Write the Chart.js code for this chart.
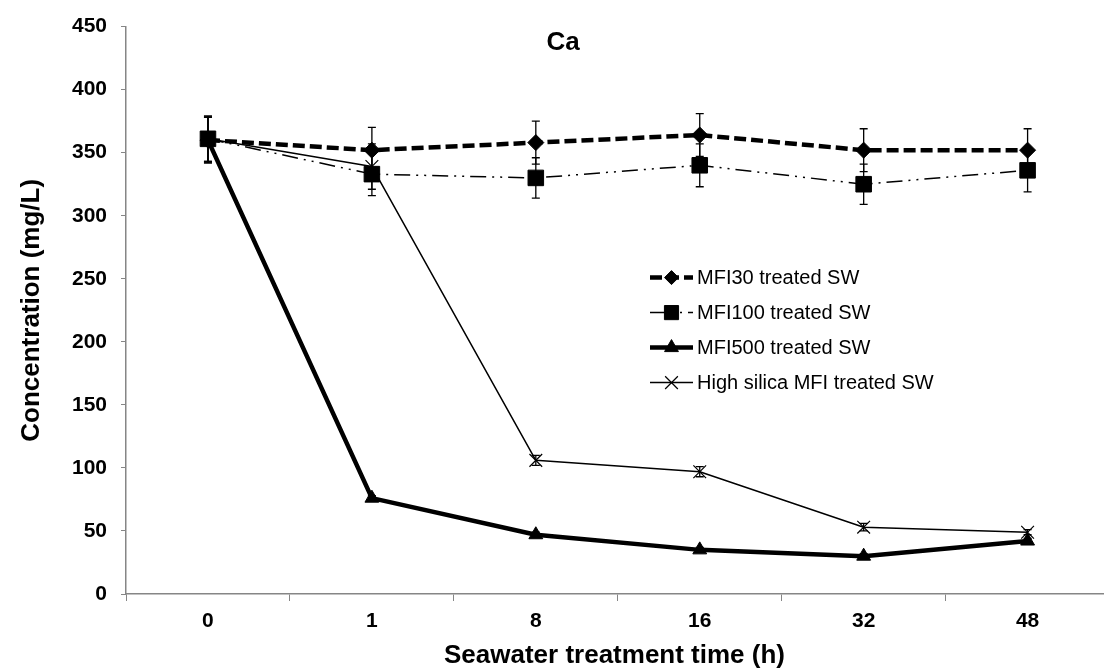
<!DOCTYPE html>
<html><head><meta charset="utf-8">
<script src="https://cdn.jsdelivr.net/npm/chart.js@4.4.1/dist/chart.umd.min.js"></script>
<style>
html,body{margin:0;padding:0;overflow:hidden;background:#fff;width:1115px;height:671px}
#c{display:block}
</style>
</head><body>
<canvas id="c" width="1115" height="671"></canvas>
<script>
// ---- data ----
const categories = ['0', '1', '8', '16', '32', '48'];
const seriesNames = ['MFI30 treated SW', 'MFI100 treated SW', 'MFI500 treated SW', 'High silica MFI treated SW'];
const mfi30 = [360, 352, 358, 364, 352, 352];
const mfi30Err = [18, 18, 17, 17, 17, 17];
const mfi100 = [361, 333, 330, 340, 325, 336];
const mfi100Err = [18, 17, 16, 17, 16, 17];
const mfi500 = [360, 76, 47, 35, 30, 42];
const mfi500Err = [18, 2, 2, 2, 2, 2];
const highSilica = [361, 339, 106, 97, 53, 49];
const highSilicaErr = [18, 18, 4, 4, 3, 2];
const yMin = 0, yMax = 450, yStep = 50;
// visible category window (the original plot is cut at the right edge)
const xViewMin = -0.5, xViewMax = 5.46;
const chartTitle = 'Ca';
const xTitle = 'Seawater treatment time (h)';
const yTitle = 'Concentration (mg/L)';

const FONT = "'Liberation Sans', Arial, sans-serif";
const AXIS = '#868686';

const toPoints = arr => arr.map((v, i) => ({x: i, y: v}));

const errorBars = {
  id: 'errorBars',
  afterDatasetsDraw(chart) {
    const ctx = chart.ctx, ys = chart.scales.y;
    chart.data.datasets.forEach((ds, di) => {
      const meta = chart.getDatasetMeta(di);
      if (!ds.errors) return;
      ctx.save();
      ctx.strokeStyle = '#000';
      ctx.lineWidth = 1.3;
      ctx.setLineDash([]);
      meta.data.forEach((pt, i) => {
        const v = ds.data[i].y, e = ds.errors[i];
        if (!e) return;
        const x = pt.x, y1 = ys.getPixelForValue(v + e), y2 = ys.getPixelForValue(v - e);
        ctx.beginPath();
        ctx.moveTo(x, y1); ctx.lineTo(x, y2);
        ctx.moveTo(x - 4, y1); ctx.lineTo(x + 4, y1);
        ctx.moveTo(x - 4, y2); ctx.lineTo(x + 4, y2);
        ctx.stroke();
      });
      ctx.restore();
    });
  }
};

const overlay = {
  id: 'overlay',
  afterDraw(chart) {
    const ctx = chart.ctx, ca = chart.chartArea;
    ctx.save();
    ctx.fillStyle = '#000';
    ctx.font = 'bold 26px ' + FONT;
    ctx.textAlign = 'center';
    ctx.textBaseline = 'middle';
    ctx.fillText(chartTitle, ca.left + 437, ca.top + 16);
    const lx0 = ca.left + 524, lx1 = ca.left + 567, tx = ca.left + 571;
    const rowY = [ca.top + 251, ca.top + 286, ca.top + 321, ca.top + 356];
    ctx.font = '20px ' + FONT;
    ctx.textAlign = 'left';
    chart.data.datasets.forEach((ds, i) => {
      const y = rowY[i];
      ctx.strokeStyle = '#000';
      ctx.lineWidth = ds.borderWidth;
      ctx.setLineDash(ds.borderDash || []);
      ctx.beginPath(); ctx.moveTo(lx0, y); ctx.lineTo(lx1, y); ctx.stroke();
      ctx.setLineDash([]);
      ctx.fillStyle = '#000';
      ctx.lineWidth = ds.pointBorderWidth;
      Chart.helpers.drawPoint(ctx, {pointStyle: ds.pointStyle, radius: ds.legendRadius, rotation: 0, borderWidth: ds.pointBorderWidth}, (lx0 + lx1) / 2, y);
      ctx.fillStyle = '#000';
      ctx.fillText(ds.label, tx, y + 1);
    });
    ctx.restore();
  }
};

new Chart(document.getElementById('c'), {
  type: 'line',
  data: {
    datasets: [
      {label: seriesNames[0], data: toPoints(mfi30), errors: mfi30Err, borderColor: '#000', backgroundColor: '#000',
       borderWidth: 4.5, borderDash: [12, 5], pointStyle: 'rectRot', pointRadius: 8, legendRadius: 7,
       pointBorderWidth: 1, pointBackgroundColor: '#000', pointBorderColor: '#000', order: 1},
      {label: seriesNames[1], data: toPoints(mfi100), errors: mfi100Err, borderColor: '#000', backgroundColor: '#000',
       borderWidth: 1.5, borderDash: [16, 6, 2, 6, 2, 6], pointStyle: 'rect', pointRadius: 11, legendRadius: 10,
       pointBorderWidth: 1, pointBackgroundColor: '#000', pointBorderColor: '#000', order: 0},
      {label: seriesNames[2], data: toPoints(mfi500), errors: mfi500Err, borderColor: '#000', backgroundColor: '#000',
       borderWidth: 4.5, borderDash: [], pointStyle: 'triangle', pointRadius: 8, legendRadius: 8,
       pointBorderWidth: 1, pointBackgroundColor: '#000', pointBorderColor: '#000', order: 2},
      {label: seriesNames[3], data: toPoints(highSilica), errors: highSilicaErr, borderColor: '#000', backgroundColor: '#000',
       borderWidth: 1.5, borderDash: [], pointStyle: 'crossRot', pointRadius: 9, legendRadius: 9,
       pointBorderWidth: 1.2, pointBackgroundColor: '#000', pointBorderColor: '#000', order: 3}
    ]
  },
  options: {
    responsive: false,
    animation: false,
    devicePixelRatio: 1,
    layout: {padding: {top: 21, right: 0, left: 0, bottom: 0}},
    plugins: {legend: {display: false}, tooltip: {enabled: false}, title: {display: false}},
    elements: {line: {tension: 0, borderJoinStyle: 'round'}},
    scales: {
      x: {
        type: 'linear',
        min: xViewMin, max: xViewMax,
        afterBuildTicks(s) { s.ticks = categories.map((_, i) => ({value: i})); },
        grid: {offset: true, drawOnChartArea: false, drawTicks: true, tickLength: 7, color: AXIS, tickWidth: 1},
        border: {color: AXIS, width: 1.5},
        ticks: {color: '#000', font: {family: FONT, size: 21, weight: 'bold'}, padding: 8, maxRotation: 0, autoSkip: false,
                callback: (v) => categories[Math.round(v)]},
        title: {display: true, text: xTitle, color: '#000', font: {family: FONT, size: 26, weight: 'bold'}, padding: {top: 0, bottom: 0}},
        afterFit(s) { s.height = 77; }
      },
      y: {
        min: yMin, max: yMax,
        grid: {drawOnChartArea: false, drawTicks: true, tickLength: 5, color: AXIS, tickWidth: 1},
        border: {color: AXIS, width: 1.5},
        ticks: {stepSize: yStep, color: '#000', font: {family: FONT, size: 21, weight: 'bold'}, padding: 14},
        title: {display: true, text: yTitle, color: '#000', font: {family: FONT, size: 26, weight: 'bold'}, padding: {top: 16, bottom: 0}},
        afterFit(s) { s.width = 126; }
      }
    }
  },
  plugins: [errorBars, overlay]
});
</script>
</body></html>
